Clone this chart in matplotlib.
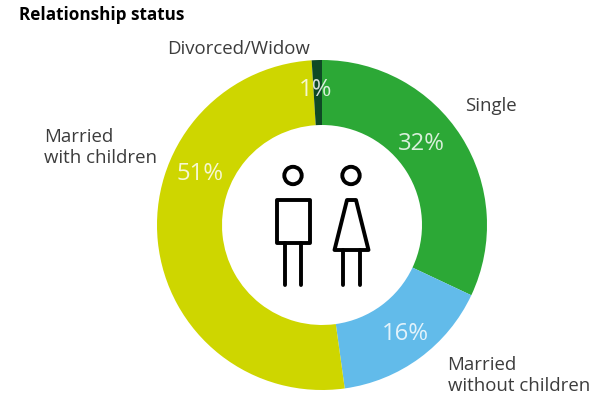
import matplotlib
matplotlib.use("Agg")
import matplotlib.pyplot as plt
from matplotlib.patches import Circle, Rectangle, Polygon

labels = ["Single", "Married\nwithout children", "Married\nwith children", "Divorced/Widow"]
values = [32, 15.8, 51.2, 1]
colors = ["#2ca836", "#62bbea", "#ced600", "#0f4a25"]
pct_labels = ["32%", "16%", "51%", "1%"]

plt.rcParams["font.family"] = "Open Sans"

fig = plt.figure(figsize=(6.12, 4.08), dpi=100)
ax = fig.add_axes([0, 0, 1, 1])

# y axis runs downwards here, so the pie has to go counterclock to look clockwise
cx, cy = 322, 225
ax.pie(values, colors=colors, startangle=-90, counterclock=True, radius=165,
       center=(cx, cy), wedgeprops=dict(width=65), frame=True)
ax.set_xlim(0, 612)
ax.set_ylim(408, 0)
ax.axis("off")
ax.set_aspect("equal")

pct_pos = [(421, 143.5), (405, 334), (200.5, 174), (316, 90)]
for t, p in zip(pct_labels, pct_pos):
    ax.text(p[0], p[1], t, color="white", fontsize=17.2, ha="center", va="center", alpha=0.82)

txt = "#3c3c3c"
ax.text(465.5, 106, labels[0], fontsize=13.4, va="center", color=txt)
ax.text(447.5, 375.5, labels[1], fontsize=13.4, va="center", color=txt, linespacing=1.2)
ax.text(44.5, 147.5, labels[2], fontsize=13.4, va="center", color=txt, linespacing=1.2)
ax.text(167.5, 48.5, labels[3], fontsize=13.4, va="center", color=txt)
ax.text(19, 15.5, "Relationship status", fontsize=12.35, fontweight="bold", va="center", color="black")

lw = 2.8
ax.add_patch(Circle((293, 175.5), 8.7, fill=False, ec="black", lw=lw))
ax.add_patch(Circle((351, 175.5), 8.7, fill=False, ec="black", lw=lw))
ax.add_patch(Rectangle((276.5, 200), 33, 43, fill=False, ec="black", lw=lw, joinstyle="round"))
ax.plot([284.5, 284.5], [243, 284.5], color="black", lw=lw, solid_capstyle="round")
ax.plot([301, 301], [243, 284.5], color="black", lw=lw, solid_capstyle="round")
ax.add_patch(Polygon([(347, 200), (356, 200), (368.5, 250), (334.5, 250)], closed=True, fill=False,
                     ec="black", lw=lw, joinstyle="round"))
ax.plot([343, 343], [250, 284.5], color="black", lw=lw, solid_capstyle="round")
ax.plot([359.5, 359.5], [250, 284.5], color="black", lw=lw, solid_capstyle="round")

fig.savefig("out.png", dpi=100)
